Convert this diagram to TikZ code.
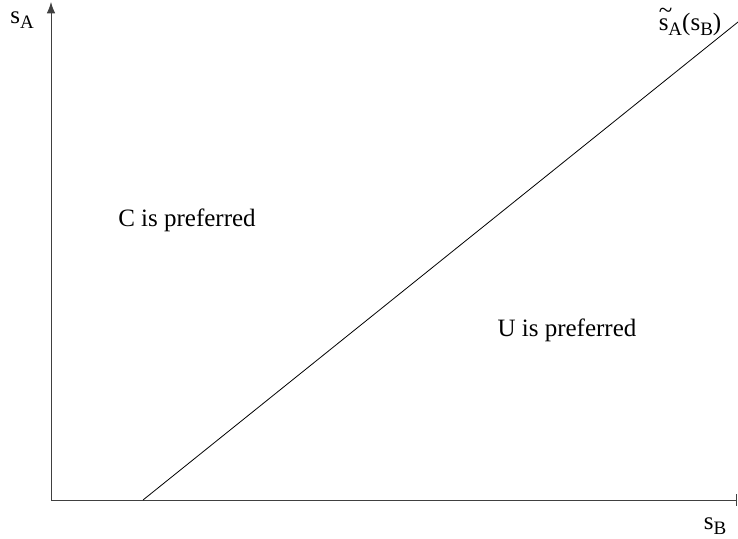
\documentclass[tikz,border=0pt]{standalone}
\usepackage{fontspec}
\setmainfont{Liberation Serif}
\usetikzlibrary{arrows.meta}
\newcommand{\lowsub}[1]{\raisebox{-0.45ex}{\fontsize{9.5}{11}\selectfont #1}}
\newcommand{\hightilde}{\makebox[0pt][l]{\raisebox{1.0ex}{\~{}}}}

\begin{document}
\begin{tikzpicture}[x=0.5pt,y=0.5pt,every node/.style={font=\fontsize{12.5}{15}\selectfont,inner sep=0pt}]
  \useasboundingbox (0,0) rectangle (738,538);
  \coordinate (origin) at (51,38);
  \coordinate (ytop) at (51,536);
  \coordinate (xend) at (737,38);
  \coordinate (lstart) at (143,38);
  \coordinate (lend) at (738,516);
  \draw[black!75,-{Latex[length=2mm,width=1.5mm]}] (origin) -- (ytop);
  \draw[black!75,-{Bar[width=2mm]}] (origin) -- (xend);
  \draw (lstart) -- (lend);
  \node (sa) at (22,518) {s\lowsub{A}};
  \node (sb) at (715,12) {s\lowsub{B}};
  \node (curve) at (690,516) {\hightilde s\lowsub{A}(s\lowsub{B})};
  \node (cpref) at (187,318) {C is preferred};
  \node (upref) at (567,208) {U is preferred};
\end{tikzpicture}
\end{document}
